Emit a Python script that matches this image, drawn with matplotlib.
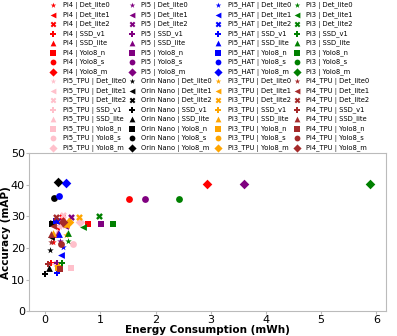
import matplotlib
matplotlib.use("Agg")
import matplotlib.pyplot as plt

models = ["Det_lite0", "Det_lite1", "Det_lite2", "SSD_v1", "SSD_lite", "Yolo8_n", "Yolo8_s", "Yolo8_m"]
markers = ["*", "<", "X", "P", "^", "s", "o", "D"]

# device order as it appears in the legend (filled column by column)
devices = ["Pi4", "Pi5_TPU", "Pi5", "Orin Nano", "Pi5_HAT", "Pi3_TPU", "Pi3", "Pi4_TPU"]
colors = ["red", "pink", "purple", "black", "blue", "orange", "green", "brown"]

# energy (mWh) / accuracy (mAP) per model, same order as models
pi4_e = [0.14, 0.20, 0.30, 0.11, 0.14, 0.78, 1.51, 2.94]
pi4_a = [22.0, 26.7, 29.9, 15.2, 24.5, 27.6, 35.4, 40.4]
pi5tpu_e = [0.30, 0.23, 0.32, 0.18, 0.22, 0.47, 0.51, 0.63]
pi5tpu_a = [27.0, 26.8, 30.3, 15.0, 25.0, 13.8, 21.2, 28.2]
pi5_e = [0.26, 0.35, 0.47, 0.21, 0.24, 1.02, 1.80, 3.60]
pi5_a = [22.1, 26.9, 29.9, 15.2, 24.6, 27.6, 35.4, 40.4]
orin_e = [0.08, 0.10, 0.12, 0.00, 0.07, 0.12, 0.16, 0.23]
orin_a = [19.3, 23.5, 28.0, 11.8, 13.6, 27.7, 35.7, 40.9]
hat_e = [0.32, 0.28, 0.22, 0.22, 0.25, 0.20, 0.25, 0.37]
hat_a = [20.4, 17.9, 28.6, 12.2, 24.5, 28.5, 36.5, 40.7]
pi3tpu_e = [0.38, 0.38, 0.61, 0.25, 0.14, 0.24, 0.36, 0.43]
pi3tpu_a = [24.0, 27.2, 29.8, 14.2, 24.7, 13.8, 27.5, 28.2]
pi3_e = [0.41, 0.69, 0.98, 0.31, 0.41, 1.22, 2.42, 5.88]
pi3_a = [22.2, 26.7, 30.0, 15.2, 24.6, 27.6, 35.4, 40.4]
pi4tpu_e = [0.11, 0.14, 0.19, 0.05, 0.10, 0.26, 0.29, 0.32]
pi4tpu_a = [21.9, 26.8, 29.8, 15.0, 24.4, 13.4, 21.4, 28.2]

energy = [pi4_e, pi5tpu_e, pi5_e, orin_e, hat_e, pi3tpu_e, pi3_e, pi4tpu_e]
accuracy = [pi4_a, pi5tpu_a, pi5_a, orin_a, hat_a, pi3tpu_a, pi3_a, pi4tpu_a]

fig = plt.figure(figsize=(3.97, 3.36), dpi=100)
ax = fig.add_axes([0.073, 0.074, 0.899, 0.47])

for d, c, es, accs in zip(devices, colors, energy, accuracy):
    for m, mk, e, a in zip(models, markers, es, accs):
        ax.scatter(e, a, marker=mk, color=c, s=24, linewidths=0,
                   label=f"{d} | {m}")

ax.set_ylim(0, 50)
ax.set_yticks([0, 10, 20, 30, 40, 50])
ax.set_xticks([0, 1, 2, 3, 4, 5, 6])
ax.tick_params(labelsize=8, color="#bbbbbb", length=2, pad=1)
for s in ax.spines.values():
    s.set_color("#bbbbbb")
ax.set_xlabel("Energy Consumption (mWh)", fontsize=7.5, fontweight="bold", labelpad=0)
ax.set_ylabel("Accuracy (mAP)", fontsize=7.5, fontweight="bold", labelpad=0)

fig.legend(loc="upper left", bbox_to_anchor=(49 / 397, 0.994), ncol=4,
           fontsize=4.9, frameon=False, labelspacing=0.37, handlelength=1.2,
           handletextpad=0.8, columnspacing=0.27, markerscale=0.85,
           borderpad=0, borderaxespad=0)

fig.savefig("out.png", dpi=100)
